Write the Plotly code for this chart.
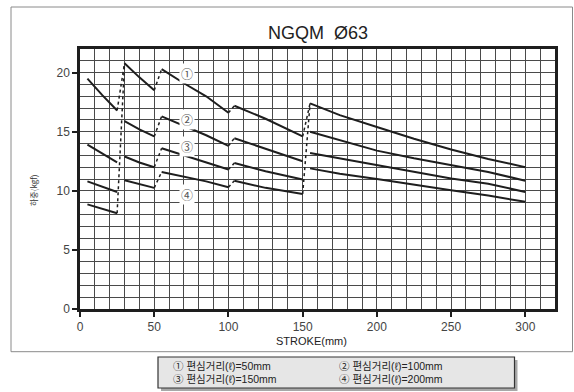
import plotly.graph_objects as go

# ---- data ----
stroke = [5, 15, 25, None, 30, 40, 50, None, 55, 70, 85, 100, None,
          104, 125, 150, None, 155, 175, 200, 225, 250, 275, 300]
load_1 = [19.5, 18.1, 16.8, None, 20.8, 19.6, 18.5, None, 20.3, 19.1, 18.0, 16.6, None,
          17.2, 16.1, 14.6, None, 17.4, 16.4, 15.4, 14.4, 13.5, 12.7, 12.0]
load_2 = [13.9, 13.15, 12.4, None, 15.9, 15.2, 14.6, None, 16.3, 15.5, 14.7, 13.8, None,
          14.45, 13.55, 12.5, None, 15.0, 14.3, 13.4, 12.75, 12.2, 11.6, 10.85]
load_3 = [10.8, 10.35, 9.9, None, 12.9, 12.4, 12.0, None, 13.6, 13.0, 12.4, 11.8, None,
          12.35, 11.65, 10.95, None, 13.2, 12.75, 12.2, 11.6, 11.05, 10.6, 9.9]
load_4 = [8.85, 8.45, 8.1, None, 10.9, 10.55, 10.25, None, 11.6, 11.2, 10.8, 10.3, None,
          10.85, 10.25, 9.73, None, 11.9, 11.45, 11.0, 10.5, 10.05, 9.6, 9.07]
curve_marks = ["①", "②", "③", "④"]
label_x = 71.8
label_y = [19.9, 16.05, 13.73, 9.72]
legend_texts = ["① 편심거리(ℓ)=50mm", "② 편심거리(ℓ)=100mm",
                "③ 편심거리(ℓ)=150mm", "④ 편심거리(ℓ)=200mm"]
x_ticks = [0, 50, 100, 150, 200, 250, 300]
y_ticks = [0, 5, 10, 15, 20]
title_text = "NGQM  Ø63"
x_title = "STROKE(mm)"
y_title = "하중(kgf)"

loads = [load_1, load_2, load_3, load_4]
FONT = "Liberation Sans, Arial, Noto Sans CJK KR, sans-serif"
KFONT = "Noto Sans CJK KR, Liberation Sans, sans-serif"
INK = "#1e1e1e"

fig = go.Figure()

# solid curve segments
for ld in loads:
    fig.add_trace(go.Scatter(x=stroke, y=ld, mode="lines", connectgaps=False,
                             line=dict(color=INK, width=2), hoverinfo="skip",
                             showlegend=False))


def seg_bounds(xs):
    segs, cur = [], []
    for i, v in enumerate(xs):
        if v is None:
            segs.append(cur)
            cur = []
        else:
            cur.append(i)
    segs.append(cur)
    return segs


segs = seg_bounds(stroke)
dots_x, dots_y = [], []
for k in range(len(segs) - 1):
    end_i, start_i = segs[k][-1], segs[k + 1][0]
    if k in (1, 2):  # per-curve dotted connectors
        for ld in loads:
            dots_x += [stroke[end_i], stroke[start_i], None]
            dots_y += [ld[end_i], ld[start_i], None]
    else:  # long connector from lowest curve + curve 1 own connector
        dots_x += [stroke[end_i], stroke[start_i], None]
        dots_y += [load_4[end_i], load_1[start_i], None]
        dots_x += [stroke[end_i], stroke[start_i], None]
        dots_y += [load_1[end_i], load_1[start_i], None]
fig.add_trace(go.Scatter(x=dots_x, y=dots_y, mode="lines", connectgaps=False,
                         line=dict(color=INK, width=1.5, dash="dot"),
                         hoverinfo="skip", showlegend=False))

# geometry helpers (pixel -> paper)
L, R, T, B, W, H = 80, 19, 49, 83, 574, 392
PW, PH = W - L - R, H - T - B


def px(x):
    return (x - L) / PW


def py(y):
    return (H - B - y) / PH


shapes = [
    # outer frame
    dict(type="rect", xref="paper", yref="paper", x0=px(11), x1=px(572.5),
         y0=py(351.7), y1=py(7), line=dict(color="#8a8a8a", width=1), layer="below"),
    # legend shadow
    dict(type="rect", xref="paper", yref="paper", x0=px(161), x1=px(517.5),
         y0=py(391), y1=py(360), line=dict(width=0), fillcolor="#a8a8a8"),
    # legend box
    dict(type="rect", xref="paper", yref="paper", x0=px(158), x1=px(514.5),
         y0=py(388), y1=py(357), line=dict(color="#333333", width=1.2),
         fillcolor="#e6e6e6"),
]

annotations = [
    dict(text=title_text, x=px(318), y=py(33), xref="paper", yref="paper",
         xanchor="center", yanchor="middle",
         showarrow=False, font=dict(family=FONT, size=18, color="#222222")),
    dict(text=x_title, x=px(311), y=py(341), xref="paper", yref="paper",
         xanchor="center", yanchor="middle",
         showarrow=False, font=dict(family=FONT, size=11, color="#222222")),
    dict(text=y_title, x=px(33), y=py(190), xref="paper", yref="paper",
         xanchor="center", yanchor="middle",
         showarrow=False, textangle=-90,
         font=dict(family=KFONT, size=8, color="#333333")),
]
for m, yv in zip(curve_marks, label_y):
    annotations.append(dict(text=m, x=label_x, y=yv, xref="x", yref="y",
                            xanchor="center", yanchor="middle",
                            showarrow=False, bgcolor="white", borderpad=1,
                            font=dict(family=KFONT, size=12, color="#555555")))
leg_pos = [(171, 365.5), (337, 365.5), (171, 378.5), (337, 378.5)]
for t, (lx, ly) in zip(legend_texts, leg_pos):
    annotations.append(dict(text=t, x=px(lx), y=py(ly), xref="paper", yref="paper",
                            xanchor="left", yanchor="middle", showarrow=False,
                            font=dict(family=FONT, size=10.5, color="#222222")))

grid_col = "#4a4a4a"
fig.update_layout(
    width=W, height=H, margin=dict(l=L, r=R, t=T, b=B),
    paper_bgcolor="white", plot_bgcolor="white",
    shapes=shapes, annotations=annotations, showlegend=False,
    xaxis=dict(range=[0, 320], tickvals=x_ticks, showgrid=True, gridcolor=grid_col,
               gridwidth=1, zeroline=False, showline=True, mirror=True,
               linecolor=INK, linewidth=2.5, ticks="outside", ticklen=5,
               tickwidth=1.5, tickcolor=INK,
               tickfont=dict(family=FONT, size=12, color="#444444"),
               minor=dict(dtick=10, showgrid=True, gridcolor=grid_col, gridwidth=1,
                          ticks="")),
    yaxis=dict(range=[0, 22], tickvals=y_ticks, showgrid=True, gridcolor=grid_col,
               gridwidth=1, zeroline=False, showline=True, mirror=True,
               linecolor=INK, linewidth=2.5, ticks="outside", ticklen=5,
               tickwidth=1.5, tickcolor=INK,
               tickfont=dict(family=FONT, size=12, color="#444444"),
               minor=dict(dtick=1, showgrid=True, gridcolor=grid_col, gridwidth=1,
                          ticks="")),
)

fig.write_html("out.html", config={"displayModeBar": False},
               post_script="document.body.style.margin='0';"
                           "document.body.style.overflow='hidden';")
